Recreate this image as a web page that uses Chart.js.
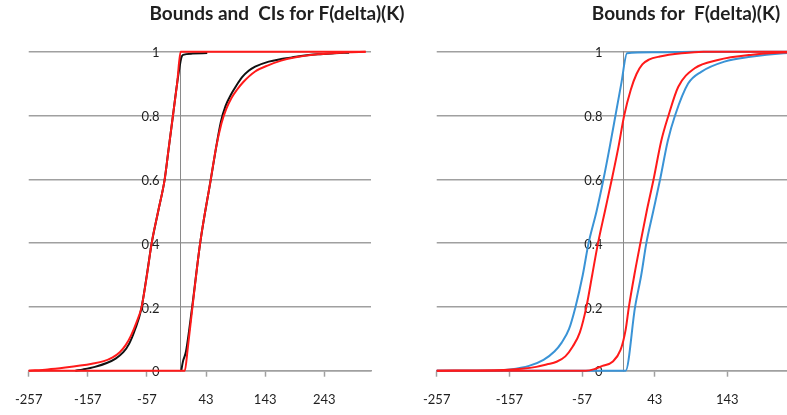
<!DOCTYPE html>
<html>
<head>
<meta charset="utf-8">
<script src="https://cdn.jsdelivr.net/npm/chart.js@4/dist/chart.umd.min.js"></script>
<style>
  html, body { margin: 0; padding: 0; width: 787px; height: 415px; overflow: hidden; background: #fff; }
  canvas { position: absolute; top: 0; }
  #ciChart { left: 0; }
  #boundsChart { left: 408px; }
</style>
</head>
<body>
<canvas id="ciChart" width="554" height="415"></canvas>
<canvas id="boundsChart" width="556" height="415"></canvas>
<script>
// Tick positions shared by both panels
const xTickValues = [-257, -157, -57, 43, 143, 243];
const yTickValues = [0, 0.2, 0.4, 0.6, 0.8, 1];
const yAxisCross = 0;

// Panel 1: bounds (red) and confidence intervals (black) for F(delta)(K)
const boundUpperX = [-257, -225, -195, -170, -150, -130, -115, -103, -93, -84, -75, -66, -57, -49, -38, -27, -20, -13, -6, 0, 40, 100, 180, 250, 313];
const boundUpperY = [0, 0.004, 0.01, 0.016, 0.022, 0.03, 0.042, 0.058, 0.08, 0.11, 0.15, 0.2, 0.3, 0.4, 0.5, 0.6, 0.7, 0.8, 0.9, 1, 1, 1, 1, 1, 1];

const ciUpperX = [-178, -165, -145, -125, -110, -97, -87, -77, -67, -58, -49, -38, -27, -20, -13, -6, 1, 4, 20, 45];
const ciUpperY = [0, 0.004, 0.012, 0.024, 0.038, 0.058, 0.085, 0.13, 0.19, 0.29, 0.4, 0.5, 0.6, 0.7, 0.8, 0.9, 0.98, 0.99, 0.994, 0.996];

const boundLowerX = [-257, 7, 12, 20, 33, 51, 60, 69, 77, 86, 95, 106, 126, 149, 170, 190, 232, 280, 313];
const boundLowerY = [0, 0, 0.07, 0.2, 0.4, 0.6, 0.7, 0.775, 0.82, 0.855, 0.88, 0.905, 0.938, 0.958, 0.972, 0.981, 0.992, 0.998, 1];

const ciLowerX = [1, 4, 9, 19.5, 33, 51, 60, 68, 76, 85, 93, 104, 115, 126, 149, 170, 188, 210, 232, 260, 285];
const ciLowerY = [0, 0.03, 0.06, 0.2, 0.4, 0.6, 0.7, 0.78, 0.83, 0.865, 0.89, 0.92, 0.94, 0.953, 0.969, 0.977, 0.982, 0.988, 0.992, 0.995, 0.997];

// Panel 2: two sets of bounds for F(delta)(K)
const outerUpperX = [-257, -183, -156, -130, -110, -95, -85, -75, -66, -56, -48, -37, -27.5, -19, -11, -3, 5, 40, 100, 160, 243];
const outerUpperY = [0, 0, 0.004, 0.015, 0.034, 0.06, 0.088, 0.13, 0.2, 0.3, 0.4, 0.5, 0.6, 0.7, 0.8, 0.9, 0.995, 0.998, 1, 1, 1];

const innerUpperX = [-257, -165, -140, -120, -105, -92, -80, -70, -60, -51, -43, -35, -25.5, -16, -7, 1, 10, 18, 26, 35, 50, 80, 110, 243];
const innerUpperY = [0, 0.002, 0.006, 0.012, 0.02, 0.028, 0.045, 0.075, 0.12, 0.2, 0.3, 0.4, 0.5, 0.6, 0.7, 0.8, 0.88, 0.93, 0.96, 0.975, 0.985, 0.995, 1, 1];

const innerLowerX = [-257, -52, -40, -29, -15, -4, 3, 7.5, 15, 23.3, 32, 41.5, 52, 62, 75.5, 98, 130, 175, 243];
const innerLowerY = [0, 0, 0.005, 0.015, 0.028, 0.065, 0.128, 0.2, 0.3, 0.4, 0.5, 0.6, 0.72, 0.8, 0.89, 0.948, 0.974, 0.99, 1];

const outerLowerX = [-257, 3, 16, 24.5, 31.5, 41, 50.5, 61, 71, 89, 107, 139, 175, 220, 243];
const outerLowerY = [0, 0, 0.2, 0.3, 0.4, 0.5, 0.6, 0.72, 0.8, 0.9, 0.937, 0.969, 0.984, 0.995, 0.997];

const RED = '#ff1a1a';
const BLACK = '#111111';
const BLUE = '#3a93d6';
const GRID = '#a0a0a0';
const TEXT = '#1f1f1f';

function points(xs, ys) {
  return xs.map((x, i) => ({ x: x, y: ys[i] }));
}

function series(xs, ys, color) {
  return {
    data: points(xs, ys),
    borderColor: color,
    borderWidth: 2,
    pointRadius: 0,
    cubicInterpolationMode: 'monotone',
    fill: false,
    clip: 6
  };
}

function formatY(v) {
  return String(Math.round(v * 10) / 10);
}

// Y labels sit just left of the vertical axis, which crosses at x = 0
const crossedYLabels = {
  id: 'crossedYLabels',
  beforeDatasetsDraw(chart, args, opts) {
    const xs = chart.scales.x;
    const ys = chart.scales.y;
    const ctx = chart.ctx;
    const px = xs.getPixelForValue(yAxisCross) - opts.gap;
    ctx.save();
    ctx.font = '13px Lato';
    ctx.fillStyle = TEXT;
    ctx.textAlign = 'right';
    ctx.textBaseline = 'middle';
    yTickValues.forEach(v => ctx.fillText(formatY(v), px, ys.getPixelForValue(v) + 1.5));
    ctx.restore();
  }
};

// Panel heading, centred on the whole canvas rather than the plot area
const panelTitle = {
  id: 'panelTitle',
  afterDraw(chart, args, opts) {
    const ctx = chart.ctx;
    ctx.save();
    ctx.font = 'bold 19px Lato';
    ctx.fillStyle = TEXT;
    ctx.textAlign = 'center';
    ctx.textBaseline = 'middle';
    ctx.fillText(opts.text, chart.width / 2, 14);
    ctx.restore();
  }
};

function makeChart(id, title, datasets, xMax, rightPad) {
  return new Chart(document.getElementById(id), {
    type: 'line',
    data: { datasets: datasets },
    plugins: [crossedYLabels, panelTitle],
    options: {
      responsive: false,
      animation: false,
      devicePixelRatio: 1,
      events: [],
      layout: { padding: { left: 24, right: rightPad, top: 51.7, bottom: 0 } },
      plugins: {
        legend: { display: false },
        tooltip: { enabled: false },
        title: { display: false },
        crossedYLabels: { gap: 21 },
        panelTitle: { text: title }
      },
      scales: {
        x: {
          type: 'linear',
          min: -257,
          max: xMax,
          afterBuildTicks(scale) {
            scale.ticks = xTickValues.filter(v => v <= xMax).map(v => ({ value: v }));
          },
          afterFit(scale) { scale.height = 44.3; },
          grid: { drawOnChartArea: false, drawTicks: true, tickLength: 6, tickColor: GRID, tickWidth: 1.5 },
          border: { display: true, color: GRID, width: 1.5 },
          ticks: {
            color: TEXT,
            font: { family: 'Lato', size: 13 },
            padding: 15,
            maxRotation: 0,
            autoSkip: false,
            callback: v => String(v)
          }
        },
        y: {
          type: 'linear',
          position: { x: yAxisCross },
          min: 0,
          max: 1,
          afterBuildTicks(scale) {
            scale.ticks = yTickValues.map(v => ({ value: v }));
          },
          grid: { color: GRID, lineWidth: 1.6, drawTicks: false },
          border: { display: true, color: '#8a8a8a', width: 1 },
          ticks: { display: false }
        }
      }
    }
  });
}

makeChart('ciChart', 'Bounds and  CIs for F(delta)(K)', [
  series(boundUpperX, boundUpperY, RED),
  series(boundLowerX, boundLowerY, RED),
  series(ciUpperX, ciUpperY, BLACK),
  series(ciLowerX, ciLowerY, BLACK)
], 322, 183);

makeChart('boundsChart', 'Bounds for  F(delta)(K)', [
  series(innerUpperX, innerUpperY, RED),
  series(innerLowerX, innerLowerY, RED),
  series(outerUpperX, outerUpperY, BLUE),
  series(outerLowerX, outerLowerY, BLUE)
], 243, 164);
</script>
</body>
</html>
